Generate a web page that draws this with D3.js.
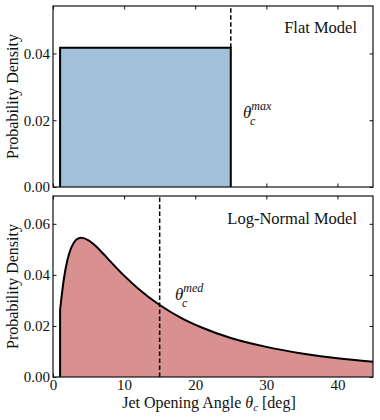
<!DOCTYPE html>
<html>
<head>
<meta charset="utf-8">
<script src="https://cdn.jsdelivr.net/npm/d3@7"></script>
<style>
  body { margin: 0; background: #fff; }
</style>
</head>
<body>
<svg id="chart" width="380" height="420"></svg>
<script>
// x axis: jet opening angle in degrees
const thetaTicks = [0, 10, 20, 30, 40];
// flat model
const flatEdges = [1, 25];
const flatDensity = 0.0417;
const flatTicks = [0.00, 0.02, 0.04];
// log-normal model
const lnTheta   = [1, 1.5, 2, 2.5, 3, 3.5, 4, 5, 6, 7, 8, 10, 12, 15, 18, 21, 25, 30, 35, 40, 45];
const lnDensity = [0.0264, 0.0379, 0.0455, 0.0502, 0.0529, 0.0542, 0.0545, 0.0535, 0.0513, 0.0485, 0.0455,
                   0.0397, 0.0346, 0.0282, 0.0232, 0.0193, 0.0153, 0.0118, 0.0092, 0.0073, 0.0060];
const lnTicks = [0.00, 0.02, 0.04, 0.06];
const thetaMax = 25, thetaMed = 15;

const SERIF = "'Liberation Serif', 'Times New Roman', 'DejaVu Serif', serif";

var svg = d3.select("#chart"),
    margin = {left: 53, right: 7},
    width = +svg.attr("width");

var x = d3.scaleLinear().domain([0, 45]).range([margin.left, width - margin.right]);

function panel(top, bottom, ymax, yticks) {
  var y = d3.scaleLinear().domain([0, ymax]).range([bottom, top]);
  var g = svg.append("g");
  var fmt = d3.format(".2f");
  g.append("g").attr("transform", `translate(${margin.left},0)`)
    .call(d3.axisLeft(y).tickValues(yticks).tickFormat(fmt).tickSize(-3.5).tickPadding(3));
  g.append("g").attr("transform", `translate(${width - margin.right},0)`)
    .call(d3.axisRight(y).tickValues(yticks).tickFormat("").tickSize(-3.5));
  g.append("g").attr("transform", `translate(0,${top})`)
    .call(d3.axisTop(x).tickValues(thetaTicks).tickFormat("").tickSize(-3.5));
  g.selectAll(".domain").remove();
  g.selectAll(".tick line").attr("stroke", "#111").attr("stroke-width", 1);
  return {g: g, y: y, top: top, bottom: bottom};
}

function frame(p) {
  p.g.append("rect")
    .attr("x", margin.left).attr("y", p.top)
    .attr("width", width - margin.right - margin.left).attr("height", p.bottom - p.top)
    .attr("fill", "none").attr("stroke", "#111").attr("stroke-width", 1.2);
}

// ---- top: flat model
var p1 = panel(6, 187, flatDensity * 1.3, flatTicks);
var xb1 = p1.g.append("g").attr("transform", `translate(0,${p1.bottom})`)
  .call(d3.axisBottom(x).tickValues(thetaTicks).tickFormat("").tickSize(-3.5));
xb1.selectAll(".domain").remove();
xb1.selectAll(".tick line").attr("stroke", "#111");

var flatPts = [[flatEdges[0], 0], [flatEdges[0], flatDensity], [flatEdges[1], flatDensity], [flatEdges[1], 0]];
var line1 = d3.line().x(d => x(d[0])).y(d => p1.y(d[1]));
p1.g.append("path").attr("d", line1(flatPts) + "Z").attr("fill", "#a2c0d9");
p1.g.append("path").attr("d", line1(flatPts)).attr("fill", "none")
  .attr("stroke", "#000").attr("stroke-width", 2);
p1.g.append("line")
  .attr("x1", x(thetaMax)).attr("x2", x(thetaMax))
  .attr("y1", p1.y(flatDensity)).attr("y2", p1.top)
  .attr("stroke", "#000").attr("stroke-width", 1.5).attr("stroke-dasharray", "4.5,2.5");
frame(p1);

var t1 = p1.g.append("text").attr("x", 243).attr("y", 118).style("font-size", "17px");
t1.append("tspan").style("font-style", "italic").text("θ");
t1.append("tspan").attr("dy", -8).style("font-size", "12px").style("font-style", "italic").text("max");
p1.g.append("text").attr("x", 250).attr("y", 125).style("font-size", "12px").style("font-style", "italic").text("c");
p1.g.append("text").attr("x", 357).attr("y", 33).attr("text-anchor", "end")
  .style("font-size", "16.5px").text("Flat Model");

// ---- bottom: log-normal model
var p2 = panel(196, 377, 0.0709, lnTicks);
var xb2 = p2.g.append("g").attr("transform", `translate(0,${p2.bottom})`)
  .call(d3.axisBottom(x).tickValues(thetaTicks).tickSize(-3.5).tickPadding(2.5));
xb2.selectAll(".domain").remove();
xb2.selectAll(".tick line").attr("stroke", "#111");

var lnPts = lnTheta.map((t, i) => [t, lnDensity[i]]);
var area = d3.area().curve(d3.curveMonotoneX)
  .x(d => x(d[0])).y0(p2.y(0)).y1(d => p2.y(d[1]));
p2.g.append("path").datum(lnPts).attr("d", area).attr("fill", "#d89090");
var curve = d3.line().curve(d3.curveMonotoneX).x(d => x(d[0])).y(d => p2.y(d[1]));
p2.g.append("path").datum(lnPts).attr("fill", "none")
  .attr("stroke", "#000").attr("stroke-width", 2)
  .attr("d", `M${x(lnTheta[0])},${p2.y(0)}L` + curve(lnPts).slice(1));
p2.g.append("line")
  .attr("x1", x(thetaMed)).attr("x2", x(thetaMed))
  .attr("y1", p2.bottom).attr("y2", p2.top)
  .attr("stroke", "#000").attr("stroke-width", 1.5).attr("stroke-dasharray", "4.5,2.5");
frame(p2);

var t2 = p2.g.append("text").attr("x", 175).attr("y", 300).style("font-size", "17px");
t2.append("tspan").style("font-style", "italic").text("θ");
t2.append("tspan").attr("dy", -8).style("font-size", "12px").style("font-style", "italic").text("med");
p2.g.append("text").attr("x", 182).attr("y", 307).style("font-size", "12px").style("font-style", "italic").text("c");
p2.g.append("text").attr("x", 357).attr("y", 224).attr("text-anchor", "end")
  .style("font-size", "16.5px").text("Log-Normal Model");

// ---- axis labels
[p1, p2].forEach(p => {
  svg.append("text")
    .attr("transform", `translate(18,${(p.top + p.bottom) / 2}) rotate(-90)`)
    .attr("text-anchor", "middle").style("font-size", "16px").text("Probability Density");
});
var xl = svg.append("text").attr("x", 209).attr("y", 408).attr("text-anchor", "middle").style("font-size", "16px");
xl.append("tspan").text("Jet Opening Angle ");
xl.append("tspan").style("font-style", "italic").text("θ");
xl.append("tspan").attr("dy", 3).style("font-size", "11px").style("font-style", "italic").text("c");
xl.append("tspan").attr("dy", -3).text(" [deg]");

// all text in a serif face, like the LaTeX original
svg.selectAll("text").attr("font-family", null).style("font-family", SERIF).attr("fill", "#111");
svg.selectAll("g").attr("font-family", null);
svg.selectAll(".tick text").style("font-size", "15px");
</script>
</body>
</html>
